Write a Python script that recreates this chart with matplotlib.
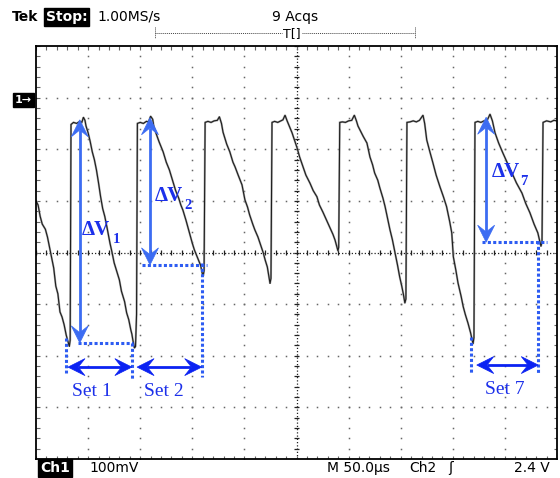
import matplotlib
matplotlib.use('Agg')
import matplotlib.pyplot as plt
import numpy as np
from matplotlib.patches import Polygon
from matplotlib.lines import Line2D

# ---------------- data (time in us, voltage in mV relative to screen centre) -------------
t_us = [0, 2, 4, 6, 9, 11, 14, 17, 19, 21, 23, 25, 27, 29, 31, 32,
        32.8, 33.6, 36, 39, 42, 44, 45.5, 47, 48,
        50, 52, 54, 56, 58, 60, 62, 64, 66, 68, 71, 73, 75, 78, 80, 82, 85, 87, 89, 91, 92, 93, 94.5,
        95.5, 96.5, 97.3, 100, 103, 106, 108, 110, 112, 113,
        115, 118, 120, 122, 125, 128, 131, 134, 137, 139, 141, 144, 147, 150, 152, 154, 156, 158, 159.5, 160.5,
        161.3, 162.3, 165, 168, 171, 174, 176, 178,
        179.5, 183, 186, 189, 191, 194, 197.7, 200.5, 203, 205, 208, 210, 213, 215, 218, 220, 222, 224.6,
        225.5, 226.5, 229, 232, 235, 237, 239, 241, 243,
        245.7, 248, 250.5, 253, 256.2, 259, 263, 266, 269.6, 272, 275.4, 279, 282, 285, 287, 289.8,
        290.5, 291.5, 294, 297, 300, 303, 305.5, 307.5, 309,
        311, 314, 317.6, 320.5, 323, 325, 328, 330, 333, 335, 337, 339.7, 342, 344.5, 347, 349, 351, 352.5, 354,
        355, 356, 359, 362, 365, 368, 371.4, 373,
        375, 378, 381, 384, 387.7, 391, 394, 397, 399, 400.5, 403, 405, 408, 410, 412, 414.6, 417, 419.4,
        420.3, 421.3, 424, 427, 430, 433, 435.7, 438,
        440.5, 444, 448, 452, 456.8, 461, 466.4, 470, 474, 478, 481.6, 484.6,
        485.6, 486.6, 490, 494, 497, 500]
v_mV = [100, 92, 70, 55, 45, 30, 0, -30, -65, -80, -115, -125, -140, -160, -175, -182,
        -170, 248, 252, 250, 254, 252, 262, 256, 245,
        232, 215, 195, 180, 160, 135, 108, 85, 70, 50, 18, 0, -20, -40, -53, -75, -95, -117, -130, -150, -158, -170, -185,
        -182, -120, 250, 252, 250, 254, 253, 264, 258, 245,
        232, 215, 205, 195, 175, 160, 140, 120, 105, 92, 82, 62, 40, 18, 5, -5, -15, -25, -40, -45,
        -35, 252, 254, 252, 255, 256, 263, 250,
        233, 210, 195, 175, 166, 150, 131, 102, 88, 73, 55, 44, 30, 18, 0, -15, -28, -60,
        -50, 252, 254, 252, 255, 257, 266, 255, 245,
        232, 218, 203, 185, 166, 150, 134, 120, 108, 92, 78, 62, 49, 35, 24, 3,
        10, 252, 253, 252, 255, 256, 266, 255, 245,
        237, 225, 212, 185, 170, 154, 140, 125, 105, 89, 70, 44, 25, 0, -25, -47, -65, -80, -98,
        -90, 252, 253, 255, 253, 256, 266, 250,
        218, 195, 173, 150, 127, 108, 89, 60, 38, -8, -35, -59, -85, -105, -120, -137, -155, -177,
        -165, 252, 254, 252, 255, 256, 268, 255,
        232, 212, 193, 175, 154, 135, 115, 95, 77, 55, 38, 12,
        20, 252, 255, 253, 256, 255]

# annotations: delta-V arrows
dv_x = [42, 109.4, 432]
dv_top = [257, 261, 262]
dv_bot = [-175, -24, 20]
dv_sub = ['1', '2', '7']
dv_lbl_x = [44, 114, 437.6]
dv_lbl_y = [44, 109, 156]
dv_sub_x = [73.5, 142.5, 464.5]
dv_sub_y = [26, 92, 137]
# level (dotted) lines
lvl_x0 = [40, 102, 428]
lvl_x1 = [93, 164, 490]
# vertical dotted markers (x, y0, y1)
vd_x = [28.8, 92, 159.3, 417.5, 481.8]
vd_y0 = [-166, -175, -20, -164, 22]
vd_y1 = [-234, -247, -241, -234, -234]
# set spans
set_x0 = [30.7, 97, 423]
set_x1 = [92, 159, 482]
set_y = [-222, -222, -218]
set_names = ['Set 1', 'Set 2', 'Set 7']
set_lbl_x = [53.7, 122.8, 450]
set_lbl_y = [-270, -270, -266]

# ---------------- figure -------------
W, H = 560, 478
fig = plt.figure(figsize=(W / 100, H / 100), dpi=100)
fig.patch.set_facecolor('white')
ax = fig.add_axes([36 / W, 19 / H, 521 / W, 413 / H])
ax.set_xlim(0, 500)
ax.set_ylim(-400, 400)
ax.set_xticks([])
ax.set_yticks([])
for s in ax.spines.values():
    s.set_linewidth(1.3)
    s.set_color('black')

sx = 521 / 500.0   # px per us
sy = 413 / 800.0   # px per mV

gcol = '#666666'
minor_x = np.arange(0, 500.1, 10)
minor_y = np.arange(-400, 400.1, 20)
for k in range(1, 10):
    if k == 5:
        continue
    ax.plot(np.full_like(minor_y, k * 50), minor_y, ls='none', marker='s', ms=1.1, mew=0, color=gcol)
for j in range(-3, 4):
    if j == 0:
        continue
    ax.plot(minor_x, np.full_like(minor_x, j * 100), ls='none', marker='s', ms=1.1, mew=0, color=gcol)
# centre lines
ax.plot([0, 500], [0, 0], ls=(0, (1, 1.6)), lw=0.9, color='#222222')
ax.plot([250, 250], [-400, 400], ls=(0, (1, 1.6)), lw=0.9, color='#222222')
ax.vlines(minor_x, -2.5 / sy, 2.5 / sy, lw=0.9, color='#222222')
ax.hlines(minor_y, 250 - 2.5 / sx, 250 + 2.5 / sx, lw=0.9, color='#222222')
# frame ticks
ax.vlines(minor_x, 400 - 3.5 / sy, 400, lw=0.8, color=gcol)
ax.vlines(minor_x, -400, -400 + 3.5 / sy, lw=0.8, color=gcol)
ax.hlines(minor_y, 0, 3.5 / sx, lw=0.8, color=gcol)
ax.hlines(minor_y, 500 - 3.5 / sx, 500, lw=0.8, color=gcol)

# trace
ax.plot(t_us, v_mV, color='#a8a8a8', lw=1.5, solid_joinstyle='miter')
ax.plot(t_us, v_mV, color='#1e1e1e', lw=0.8)


def stealth_arrow(x0, y0, x1, y1, color, lw, L, Wd):
    p0 = np.array([x0 * sx, y0 * sy])
    p1 = np.array([x1 * sx, y1 * sy])
    u = (p1 - p0) / np.linalg.norm(p1 - p0)
    n = np.array([-u[1], u[0]])
    notches = []
    for tip, d in ((p1, u), (p0, -u)):
        base = tip - L * d
        notch = tip - 0.6 * L * d
        pts = np.array([tip, base + 0.5 * Wd * n, notch, base - 0.5 * Wd * n])
        pts[:, 0] /= sx
        pts[:, 1] /= sy
        ax.add_patch(Polygon(pts, closed=True, facecolor=color, edgecolor=color, lw=0.5, zorder=6))
        notches.append(notch)
    a, b = notches
    ax.plot([a[0] / sx, b[0] / sx], [a[1] / sy, b[1] / sy], color=color, lw=lw, zorder=6,
            solid_capstyle='butt')


vcol = '#3c6cf2'
hcol = '#0b22f2'
dcol = '#2d5cf2'
tcol = '#1c30ea'
dot_ls = (0, (1.0, 0.75))

for i in range(3):
    stealth_arrow(dv_x[i], dv_bot[i], dv_x[i], dv_top[i], vcol, 2.0, 17, 17)
    ax.plot([lvl_x0[i], lvl_x1[i]], [dv_bot[i], dv_bot[i]], ls=dot_ls, lw=2.2, color=dcol,
            dash_capstyle='butt', zorder=5)
    ax.text(dv_lbl_x[i], dv_lbl_y[i], '\u0394V', color=tcol, fontsize=15, fontweight='bold',
            family='Liberation Serif', ha='left', va='center', zorder=7)
    ax.text(dv_sub_x[i], dv_sub_y[i], dv_sub[i], color=tcol, fontsize=10.5, fontweight='bold',
            family='Liberation Serif', ha='left', va='center', zorder=7)
    stealth_arrow(set_x0[i], set_y[i], set_x1[i], set_y[i], hcol, 2.0, 17, 17)
    ax.text(set_lbl_x[i], set_lbl_y[i], set_names[i], color=tcol, fontsize=14,
            family='Liberation Serif', ha='center', va='center', zorder=7)

for i in range(len(vd_x)):
    ax.plot([vd_x[i], vd_x[i]], [vd_y0[i], vd_y1[i]], ls=dot_ls, lw=2.2, color=dcol,
            dash_capstyle='butt', zorder=5)


# ---------------- screen texts -------------
def ft(x, y, s, **kw):
    return fig.text(x / W, 1 - y / H, s, **kw)


hdr = dict(family='DejaVu Sans', fontsize=10, va='center')
ft(12, 17, 'Tek', fontweight='bold', **hdr)
ft(46, 17, 'Stop:', fontweight='bold', color='white',
   bbox=dict(boxstyle='square,pad=0.12', fc='black', ec='black'), **hdr)
ft(97, 17, '1.00MS/s', **hdr)
ft(295, 17, '9 Acqs', ha='center', **hdr)
ft(292, 34, 'T[]', ha='center', family='DejaVu Sans', fontsize=9, va='center')
fig.add_artist(Line2D([155 / W, 282 / W], [1 - 33 / H] * 2, ls=(0, (1, 1)), lw=0.7, color='#444444'))
fig.add_artist(Line2D([302 / W, 415 / W], [1 - 33 / H] * 2, ls=(0, (1, 1)), lw=0.7, color='#444444'))
fig.add_artist(Line2D([155 / W] * 2, [1 - 27 / H, 1 - 38 / H], ls=(0, (1, 1)), lw=0.7, color='#444444'))
fig.add_artist(Line2D([415 / W] * 2, [1 - 27 / H, 1 - 38 / H], ls=(0, (1, 1)), lw=0.7, color='#444444'))

ft(15, 100, '1\u2192', fontweight='bold', color='white', family='DejaVu Sans', fontsize=8, va='center',
   bbox=dict(boxstyle='square,pad=0.15', fc='black', ec='black'))

ft(40, 468, 'Ch1', fontweight='bold', color='white',
   bbox=dict(boxstyle='square,pad=0.12', fc='black', ec='black'), **hdr)
ft(89, 468, '100mV', **hdr)
ft(327, 468, 'M 50.0\u00b5s', **hdr)
ft(409, 468, 'Ch2', **hdr)
ft(448, 468, '\u0283', **hdr)
ft(550, 468, '2.4 V', ha='right', **hdr)

fig.savefig('out.png', dpi=100)
